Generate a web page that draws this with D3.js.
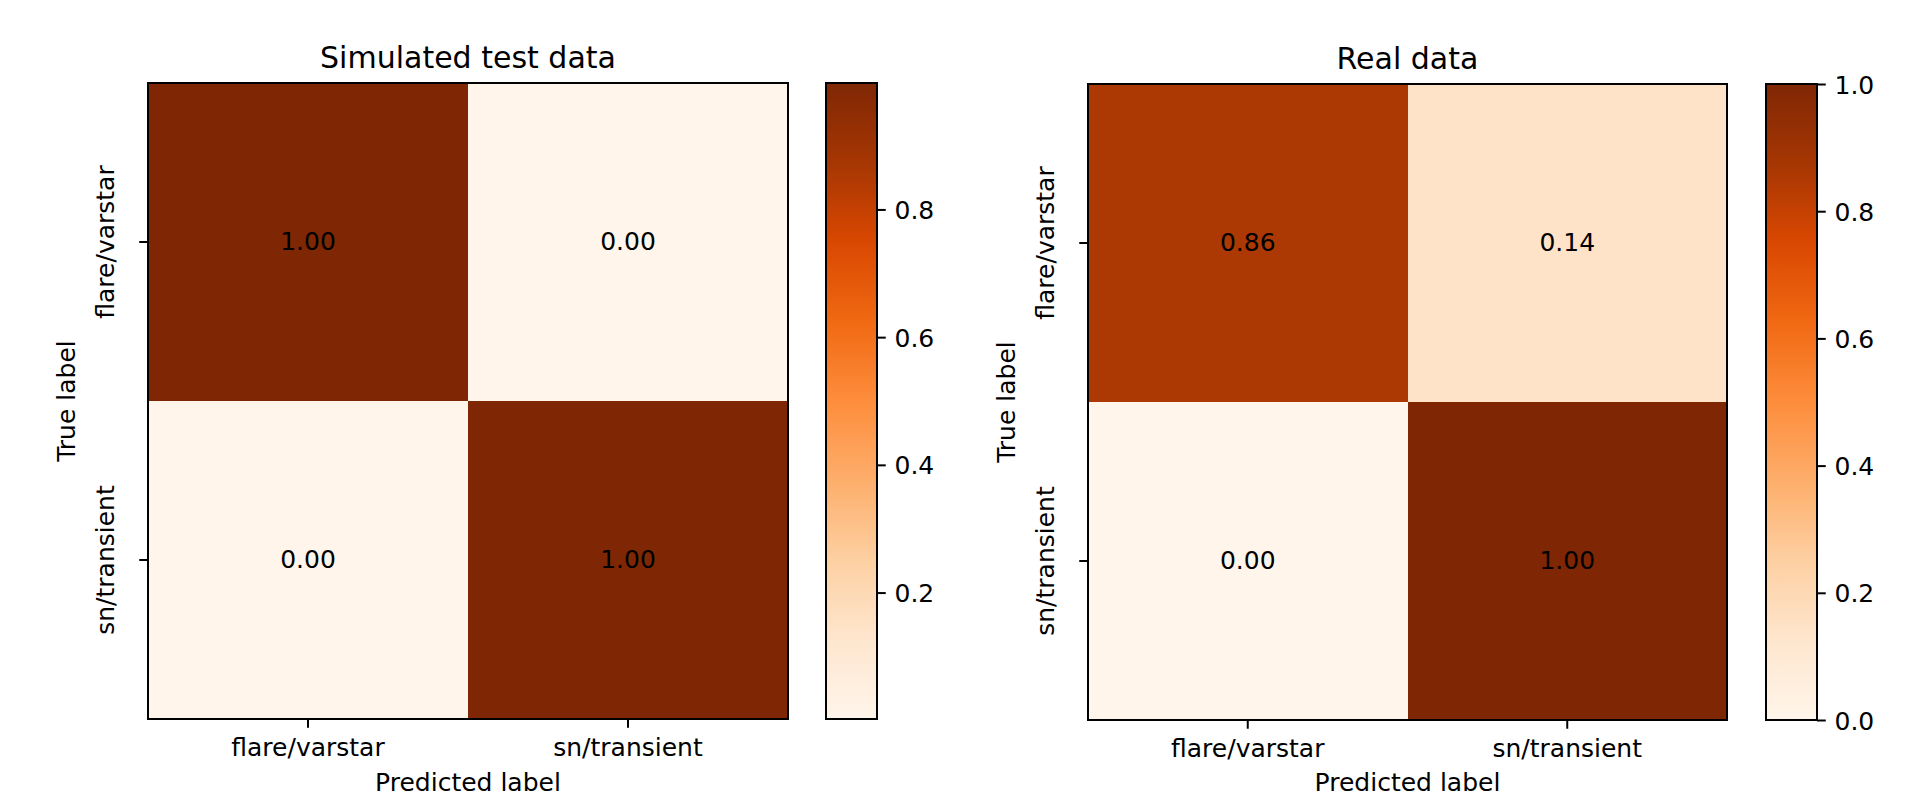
<!DOCTYPE html>
<html>
<head>
<meta charset="utf-8">
<script src="https://cdn.jsdelivr.net/npm/d3@7"></script>
<style>
  body { margin: 0; background: #fff; }
  svg { display: block; font-family: 'DejaVu Sans', sans-serif; }
</style>
</head>
<body>
<div id="chart"></div>
<script>
const classes = ['flare/varstar', 'sn/transient'];
const simulatedValues = [[0.998, 0.002], [0.003, 0.997]];
const realValues = [[0.86, 0.14], [0.00, 1.00]];
const titles = ['Simulated test data', 'Real data'];
// matplotlib "Oranges" colormap stops
const orangeStops = ['#fff5eb', '#fee6ce', '#fdd0a2', '#fdae6b', '#fd8d3c', '#f16913', '#d94801', '#a63603', '#7f2704'];

const width = 1926, height = 801;
const tickLen = 8.75;
const panels = [
  { title: titles[0], values: simulatedValues, x0: 148, x1: 788, y0: 83, y1: 719, cb0: 826, cb1: 877 },
  { title: titles[1], values: realValues, x0: 1088, x1: 1727, y0: 84, y1: 720, cb0: 1766, cb1: 1817 }
];

const svg = d3.select('#chart').append('svg').attr('width', width).attr('height', height);
const defs = svg.append('defs');

const cmap = d3.scaleLinear()
  .domain(d3.range(orangeStops.length).map(i => i / (orangeStops.length - 1)))
  .range(orangeStops)
  .interpolate(d3.interpolateRgb);

panels.forEach((p, pi) => {
  const flat = p.values.flat();
  const vmin = d3.min(flat), vmax = d3.max(flat);
  const norm = d3.scaleLinear().domain([vmin, vmax]).range([0, 1]);
  const x = d3.scaleBand().domain(classes).range([p.x0, p.x1]);
  const y = d3.scaleBand().domain(classes).range([p.y0, p.y1]);
  const g = svg.append('g');

  const cells = p.values.flatMap((row, i) => row.map((v, j) => ({ row: classes[i], col: classes[j], v })));

  g.selectAll('rect.cell').data(cells).join('rect')
    .attr('class', 'cell')
    .attr('x', d => x(d.col))
    .attr('y', d => y(d.row))
    .attr('width', x.bandwidth())
    .attr('height', y.bandwidth())
    .attr('fill', d => cmap(norm(d.v)))
    .attr('shape-rendering', 'crispEdges');

  g.selectAll('text.val').data(cells).join('text')
    .attr('class', 'val')
    .attr('x', d => x(d.col) + x.bandwidth() / 2)
    .attr('y', d => y(d.row) + y.bandwidth() / 2)
    .attr('dy', '0.32em')
    .attr('text-anchor', 'middle')
    .attr('font-size', 25)
    .attr('fill', '#000')
    .text(d => d3.format('.2f')(d.v));

  // frame
  g.append('rect')
    .attr('x', p.x0).attr('y', p.y0)
    .attr('width', p.x1 - p.x0).attr('height', p.y1 - p.y0)
    .attr('fill', 'none').attr('stroke', '#000').attr('stroke-width', 2);

  // x axis
  const xAxis = g.append('g')
    .attr('transform', `translate(0,${p.y1})`)
    .call(d3.axisBottom(x).tickSize(tickLen).tickSizeOuter(0));
  xAxis.attr('font-family', null).attr('font-size', null);
  xAxis.select('.domain').remove();
  xAxis.selectAll('line').attr('stroke', '#000').attr('stroke-width', 2);
  xAxis.selectAll('text')
    .attr('y', 37).attr('dy', null)
    .attr('font-size', 25).attr('fill', '#000');

  // y axis with rotated labels
  const yAxis = g.append('g')
    .attr('transform', `translate(${p.x0},0)`)
    .call(d3.axisLeft(y).tickSize(tickLen).tickSizeOuter(0));
  yAxis.attr('font-family', null).attr('font-size', null);
  yAxis.select('.domain').remove();
  yAxis.selectAll('line').attr('stroke', '#000').attr('stroke-width', 2);
  yAxis.selectAll('text')
    .attr('x', null).attr('dy', null)
    .attr('transform', 'translate(-34,0) rotate(-90)')
    .attr('text-anchor', 'middle')
    .attr('font-size', 25).attr('fill', '#000');

  // axis labels and title
  g.append('text')
    .attr('x', (p.x0 + p.x1) / 2).attr('y', 791)
    .attr('text-anchor', 'middle').attr('font-size', 25)
    .text('Predicted label');
  g.append('text')
    .attr('transform', `translate(${p.x0 - 73},${(p.y0 + p.y1) / 2}) rotate(-90)`)
    .attr('text-anchor', 'middle').attr('font-size', 25)
    .text('True label');
  g.append('text')
    .attr('x', (p.x0 + p.x1) / 2).attr('y', p.y0 - 15)
    .attr('text-anchor', 'middle').attr('font-size', 30)
    .text(p.title);

  // colorbar
  const gradId = 'cbar' + pi;
  const grad = defs.append('linearGradient').attr('id', gradId)
    .attr('x1', 0).attr('y1', 1).attr('x2', 0).attr('y2', 0);
  grad.selectAll('stop').data(d3.range(0, 1.0001, 0.025)).join('stop')
    .attr('offset', d => d)
    .attr('stop-color', d => cmap(d));
  g.append('rect')
    .attr('x', p.cb0).attr('y', p.y0)
    .attr('width', p.cb1 - p.cb0).attr('height', p.y1 - p.y0)
    .attr('fill', `url(#${gradId})`)
    .attr('stroke', '#000').attr('stroke-width', 2);

  const cbY = d3.scaleLinear().domain([vmin, vmax]).range([p.y1, p.y0]);
  const cbAxis = g.append('g')
    .attr('transform', `translate(${p.cb1},0)`)
    .call(d3.axisRight(cbY).ticks(5).tickFormat(d3.format('.1f')).tickSize(tickLen).tickSizeOuter(0).tickPadding(8.75));
  cbAxis.attr('font-family', null).attr('font-size', null);
  cbAxis.select('.domain').remove();
  cbAxis.selectAll('line').attr('stroke', '#000').attr('stroke-width', 2);
  cbAxis.selectAll('text').attr('font-size', 25).attr('fill', '#000').attr('dy', '0.36em');
});
</script>
</body>
</html>
